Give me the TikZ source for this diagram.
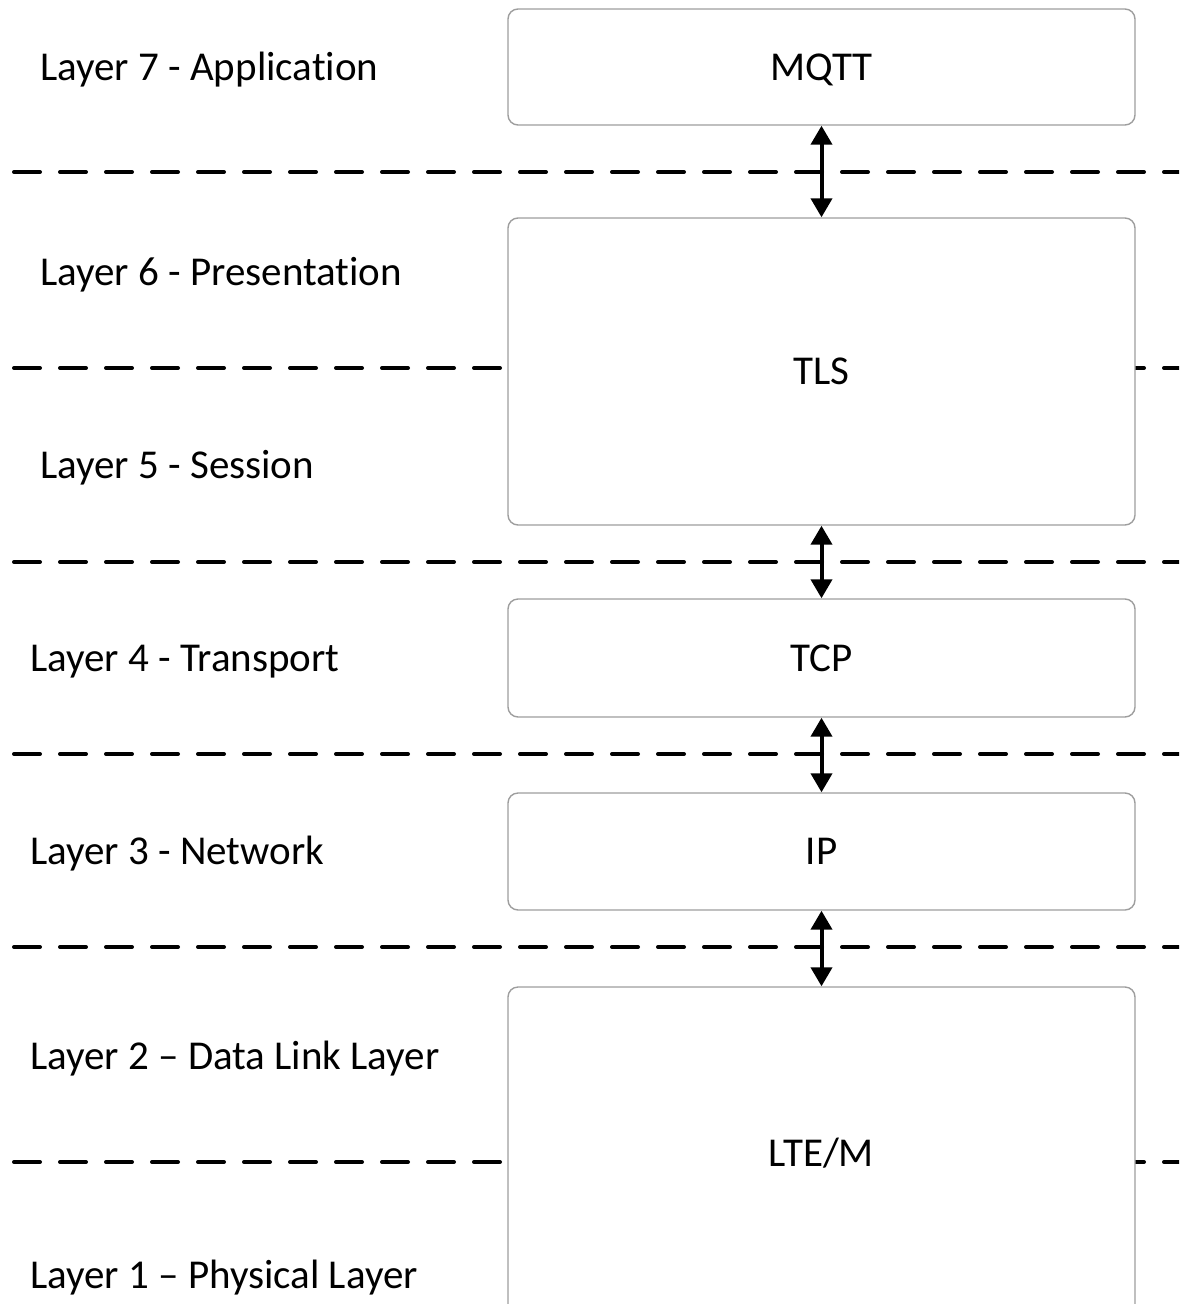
\documentclass[tikz,border=0pt]{standalone}
\usepackage{fontspec}
\setmainfont{Carlito}[Ligatures={NoCommon,NoRare}]
\usetikzlibrary{arrows.meta}
\tikzset{
  layerbox/.style={draw=black!38, line width=1.4pt, fill=white, rounded corners=10pt,
    minimum width=627pt, inner sep=0pt, text height=26pt, text depth=0pt,
    font=\fontsize{41}{49}\selectfont},
  layerlabel/.style={anchor=base west, inner sep=0pt, font=\fontsize{41}{49}\selectfont},
  sepline/.style={line width=4pt, line cap=round, dash pattern=on 26pt off 20pt},
  biarrow/.style={line width=4pt, {Triangle[width=21pt,length=19pt]}-{Triangle[width=21pt,length=19pt]}}
}
\begin{document}
\begin{tikzpicture}[x=1pt,y=-1pt]
\useasboundingbox (0,0) rectangle (1179,1304);
\clip (0,0) rectangle (1179,1304);
% separator lines
\foreach \yy in {172,368,562,754,947,1162}
  \draw[sepline] (14,\yy) -- (1200,\yy);
% boxes
\node[layerbox, minimum height=116pt] (mqtt) at (821.5,67) {MQTT};
\node[layerbox, minimum height=307pt] (tls) at (821.5,371.5) {TLS};
\node[layerbox, minimum height=118pt] (tcp) at (821.5,658) {TCP};
\node[layerbox, minimum height=117pt] (ip) at (821.5,851.5) {IP};
\node[layerbox, minimum height=333pt] (lte) at (821.5,1153.5) {LTE/M};
% arrows
\draw[biarrow] (mqtt.south) -- (tls.north);
\draw[biarrow] (tls.south) -- (tcp.north);
\draw[biarrow] (tcp.south) -- (ip.north);
\draw[biarrow] (ip.south) -- (lte.north);
% labels
\node[layerlabel] (l7) at (40,80) {Layer 7 - Application};
\node[layerlabel] (l6) at (40,285) {Layer 6 - Presentation};
\node[layerlabel] (l5) at (40,478) {Layer 5 - Session};
\node[layerlabel] (l4) at (30,671) {Layer 4 - Transport};
\node[layerlabel] (l3) at (30,864) {Layer 3 - Network};
\node[layerlabel] (l2) at (30,1069) {Layer 2 – Data Link Layer};
\node[layerlabel] (l1) at (30,1288) {Layer 1 – Physical Layer};
\end{tikzpicture}
\end{document}
